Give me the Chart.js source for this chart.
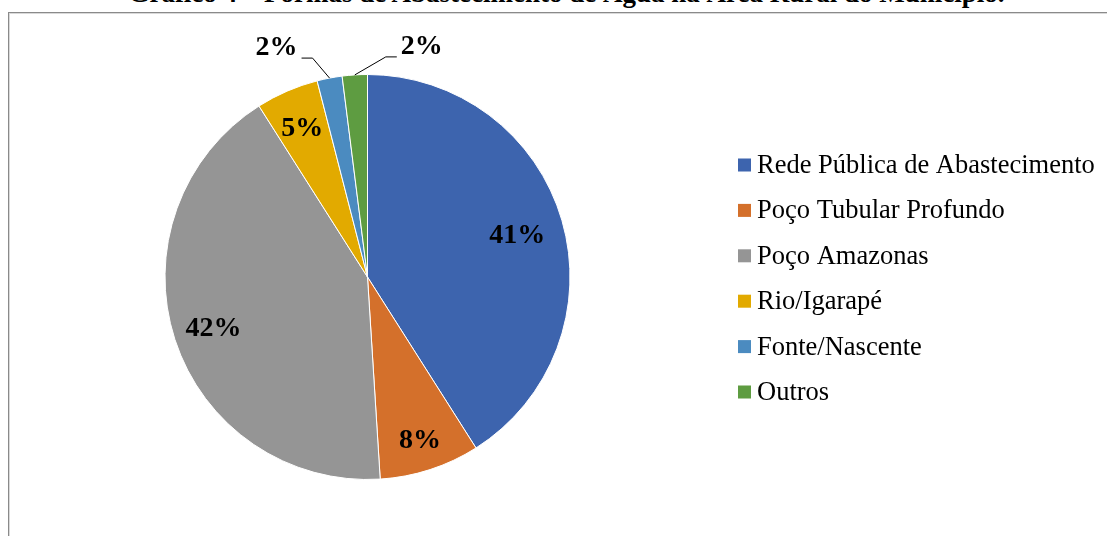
<!DOCTYPE html>
<html>
<head>
<meta charset="utf-8">
<script src="https://cdn.jsdelivr.net/npm/chart.js@4.4.0/dist/chart.umd.min.js"></script>
<style>
  html, body { margin: 0; padding: 0; background: #fff; overflow: hidden; }
  #wrap { position: relative; width: 1107px; height: 536px; overflow: hidden; }
  #frame { position: absolute; left: 8px; top: 12px; width: 1200px; height: 600px;
           border: 1px solid #8a8a8a; box-shadow: inset 1px 1px 0 #d9d9d9; }
  #title { position: absolute; left: 0; width: 1107px; top: -20px; height: 27px; line-height: 27px;
           text-align: center; font-family: "Liberation Serif", "Times New Roman", serif;
           font-weight: bold; font-size: 27px; color: #000; white-space: nowrap;
           padding-left: 26px; box-sizing: border-box; }
  #pie { position: absolute; left: 0; top: 0; }
</style>
</head>
<body>
<div id="wrap">
  <div id="frame"></div>
  <div id="title">Gráfico 4 – Formas de Abastecimento de Água na Área Rural do Município.</div>
  <canvas id="pie" width="1107" height="536"></canvas>
</div>
<script>
// data
const categories = ["Rede Pública de Abastecimento", "Poço Tubular Profundo", "Poço Amazonas",
                    "Rio/Igarapé", "Fonte/Nascente", "Outros"];
const percents = [41, 8, 42, 5, 2, 2];
const colors = ["#3d64ae", "#d4702b", "#959595", "#e2aa00", "#4b8bc0", "#5e9c41"];

const serif = '"Liberation Serif", "Times New Roman", serif';

// percent labels on / next to the slices
const pieLabels = {
    id: 'pieLabels',
    afterDatasetsDraw(chart, args, opts) {
        const ctx = chart.ctx;
        const meta = chart.getDatasetMeta(0);
        ctx.save();
        ctx.font = 'bold 28px ' + serif;
        ctx.fillStyle = '#000';
        meta.data.forEach((arc, i) => {
            const txt = percents[i] + '%';
            const mid = (arc.startAngle + arc.endAngle) / 2;
            const R = arc.outerRadius;
            const call = opts.callouts[i];
            if (call) {
                // leader line from edge to elbow, then short horizontal
                const sx = arc.x + Math.cos(mid) * R;
                const sy = arc.y + Math.sin(mid) * R;
                const ex = sx + call.dx, ey = sy + call.dy;
                const hx = ex + call.side * 11;
                ctx.strokeStyle = '#000';
                ctx.lineWidth = 1;
                ctx.beginPath();
                ctx.moveTo(sx, sy);
                ctx.lineTo(ex, ey);
                ctx.lineTo(hx, ey);
                ctx.stroke();
                ctx.textAlign = call.side < 0 ? 'right' : 'left';
                ctx.textBaseline = 'alphabetic';
                ctx.fillText(txt, hx + call.side * 4, ey - 3);
            } else {
                ctx.textAlign = 'center';
                ctx.textBaseline = 'middle';
                const r = R * (opts.radius[i] || 0.8);
                ctx.fillText(txt, arc.x + Math.cos(mid) * r, arc.y + Math.sin(mid) * r + 2);
            }
        });
        ctx.restore();
    }
};

// legend drawn on the right
const sideLegend = {
    id: 'sideLegend',
    afterDraw(chart, args, opts) {
        const ctx = chart.ctx;
        ctx.save();
        ctx.font = '26.5px ' + serif;
        ctx.textBaseline = 'middle';
        ctx.textAlign = 'left';
        chart.data.labels.forEach((lab, i) => {
            const y = opts.top + i * opts.step;
            ctx.fillStyle = chart.data.datasets[0].backgroundColor[i];
            ctx.fillRect(opts.left, y - 6.5, 13, 13);
            ctx.fillStyle = '#000';
            ctx.fillText(lab, opts.left + 19, y + 1);
        });
        ctx.restore();
    }
};

new Chart(document.getElementById('pie'), {
    type: 'pie',
    data: {
        labels: categories,
        datasets: [{
            data: percents,
            backgroundColor: colors,
            borderColor: '#ffffff',
            borderWidth: 1
        }]
    },
    options: {
        responsive: false,
        animation: false,
        layout: { padding: { left: 164, top: 74, right: 536, bottom: 56 } },
        plugins: {
            legend: { display: false },
            tooltip: { enabled: false },
            pieLabels: {
                radius: { 0: 0.77, 1: 0.84, 2: 0.8, 3: 0.81 },
                callouts: {
                    4: { dx: -17, dy: -20, side: -1 },
                    5: { dx: 31, dy: -18, side: 1 }
                }
            },
            sideLegend: { left: 738, top: 165, step: 45.4 }
        }
    },
    plugins: [pieLabels, sideLegend]
});
</script>
</body>
</html>
